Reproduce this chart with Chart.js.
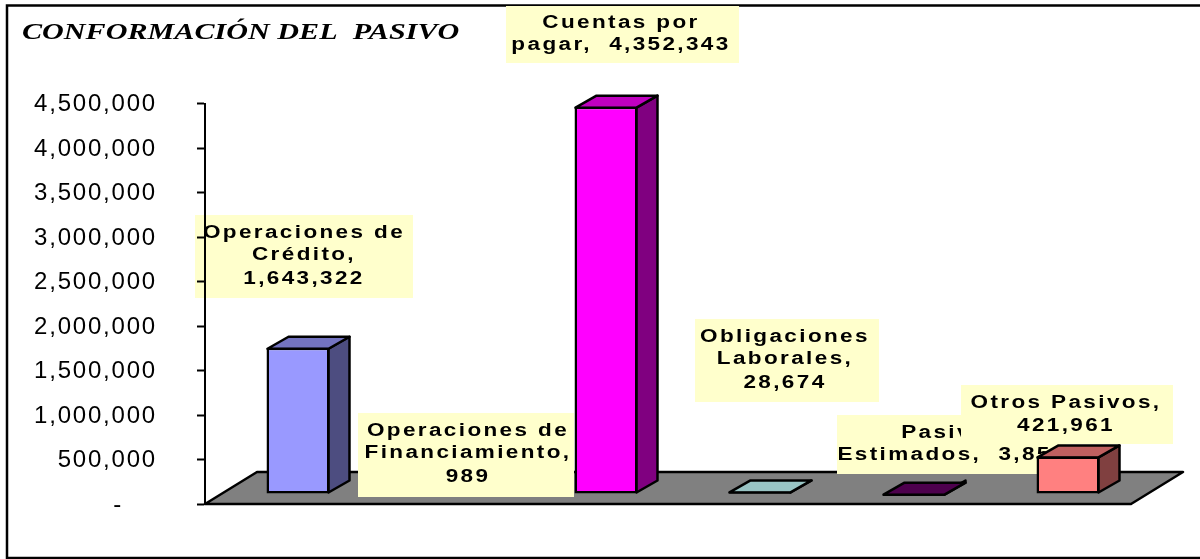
<!DOCTYPE html>
<html>
<head>
<meta charset="utf-8">
<style>html,body{margin:0;padding:0;background:#fff}canvas{display:block}</style>
<script src="https://cdn.jsdelivr.net/npm/chart.js@4"></script>
</head>
<body>
<canvas id="c" width="1200" height="559"></canvas>
<script>
const categories = ["Operaciones de Crédito","Operaciones de Financiamiento","Cuentas por pagar","Obligaciones Laborales","Pasivos Estimados","Otros Pasivos"];
const values = [1643322, 989, 4352343, 28674, 3850, 421961];
const labelLines = [
  ["Operaciones de","Crédito,","1,643,322"],
  ["Operaciones de","Financiamiento,","989"],
  ["Cuentas por","pagar,  4,352,343"],
  ["Obligaciones","Laborales,","28,674"],
  ["Pasivos","Estimados,  3,850"],
  ["Otros Pasivos,","421,961"]
];
const frontColors = ["#9999FF","#993366","#FF00FF","#CCFFFF","#660066","#FF8080"];
const topColors   = ["#7373C0","#73264D","#BF00BF","#99C4C4","#4D004D","#BF6060"];
const sideColors  = ["#4D4D80","#4D1A33","#800080","#668080","#330033","#804040"];
const titleText = "CONFORMACIÓN DEL  PASIVO";

// layout of the label boxes: x0,y0,x1,y1 and the centre of each text line
const boxLayout = [
  {b:[195,215,413,298], c:304, ys:[233,255,279]},
  {b:[358,413,574,497], c:468, ys:[431,453,477]},
  {b:[506,6,739,63],    c:621, ys:[23,45]},
  {b:[695,319,879,402], c:785, ys:[337,359,383]},
  {b:[837,415,1066,474],c:952, ys:[433,455]},
  {b:[961,385,1173,444],c:1066,ys:[403,426]}
];
const FRONT = {dx:16, dy:-10};
const DEPTH = {dx:21, dy:-12};
const FLOOR = {dx:52, dy:-32};
const LABEL_STRETCH = 1.25;
const labelFont = 'bold 18px "Liberation Sans"';

function drawBox(ctx,i){
  const [x0,y0,x1,y1]=boxLayout[i].b;
  ctx.fillStyle='#FFFFCC';
  ctx.fillRect(x0,y0,x1-x0,y1-y0);
}
function drawLabelText(ctx,i){
  ctx.save();
  ctx.font=labelFont;
  ctx.letterSpacing='1.9px';
  ctx.fillStyle='#000';
  ctx.textAlign='center';
  ctx.textBaseline='middle';
  labelLines[i].forEach((t,k)=>{
    ctx.save();
    ctx.translate(boxLayout[i].c,boxLayout[i].ys[k]);
    ctx.scale(LABEL_STRETCH,1);
    ctx.fillText(t,0,0);
    ctx.restore();
  });
  ctx.restore();
}
function poly(ctx,pts,fill){
  ctx.beginPath();
  pts.forEach((p,k)=>k?ctx.lineTo(p[0],p[1]):ctx.moveTo(p[0],p[1]));
  ctx.closePath();
  ctx.fillStyle=fill;ctx.fill();
  ctx.lineWidth=2.5;ctx.strokeStyle='#000';ctx.lineJoin='round';ctx.stroke();
}

const pseudo3d = {
  id:'pseudo3d',
  beforeDraw(chart){
    const ctx=chart.ctx;
    ctx.save();
    ctx.strokeStyle='#000';ctx.lineWidth=2.5;
    ctx.strokeRect(7,5.5,1210,552.5);
    drawBox(ctx,0);
    ctx.font='italic bold 23px "Liberation Serif"';
    ctx.fillStyle='#000';ctx.textBaseline='alphabetic';
    ctx.translate(22,39);ctx.scale(1.31,1);
    ctx.fillText(titleText,0,0);
    ctx.restore();
    ctx.letterSpacing='1.8px';
  },
  beforeDatasetsDraw(chart){
    const ctx=chart.ctx,a=chart.chartArea,fr=a.right+2;
    ctx.save();
    ctx.letterSpacing='0px';
    poly(ctx,[[a.left,a.bottom],[fr,a.bottom],[fr+FLOOR.dx,a.bottom+FLOOR.dy],[a.left+FLOOR.dx,a.bottom+FLOOR.dy]],'#808080');
    drawBox(ctx,4);drawLabelText(ctx,4);
    ctx.restore();
  },
  beforeDatasetDraw(chart,args){
    const ctx=chart.ctx;
    ctx.save();
    ctx.translate(FRONT.dx,FRONT.dy);
    chart.getDatasetMeta(args.index).data.forEach((bar,i)=>{
      const p=bar.getProps(['x','y','base','width'],true);
      const l=p.x-p.width/2+1,r=p.x+p.width/2-1,t=p.y+1,b=p.base-1;
      poly(ctx,[[r,t],[r+DEPTH.dx,t+DEPTH.dy],[r+DEPTH.dx,b+DEPTH.dy],[r,b]],sideColors[i]);
      poly(ctx,[[l,t],[l+DEPTH.dx,t+DEPTH.dy],[r+DEPTH.dx,t+DEPTH.dy],[r,t]],topColors[i]);
    });
  },
  afterDatasetDraw(chart){ chart.ctx.restore(); },
  afterDatasetsDraw(chart){
    const ctx=chart.ctx;
    [1,2,3,5].forEach(i=>drawBox(ctx,i));
  },
  afterDraw(chart){
    const ctx=chart.ctx;
    ctx.letterSpacing='0px';
    [0,1,2,3,5].forEach(i=>drawLabelText(ctx,i));
  }
};

new Chart(document.getElementById('c'),{
  type:'bar',
  data:{labels:categories,datasets:[{
    data:values,
    backgroundColor:frontColors,
    borderColor:'#000',
    borderWidth:2.5,
    borderSkipped:false,
    barPercentage:0.409,
    categoryPercentage:1,
    clip:false
  }]},
  plugins:[pseudo3d],
  options:{
    responsive:false,
    animation:false,
    devicePixelRatio:1,
    layout:{padding:{top:103.5,right:71,bottom:55,left:0}},
    plugins:{legend:{display:false},title:{display:false},tooltip:{enabled:false}},
    scales:{
      x:{display:false},
      y:{
        min:0,max:4500000,
        afterFit(s){s.width=205;},
        ticks:{
          stepSize:500000,
          padding:40,
          labelOffset:1,
          color:'#000',
          font:{family:'"Liberation Sans"',size:24},
          callback:v=>v===0?'-    ':v.toLocaleString('en-US')
        },
        grid:{drawOnChartArea:false,drawTicks:true,tickLength:8,tickColor:'#000',tickWidth:2},
        border:{color:'#000',width:2}
      }
    }
  }
});
</script>
</body>
</html>
